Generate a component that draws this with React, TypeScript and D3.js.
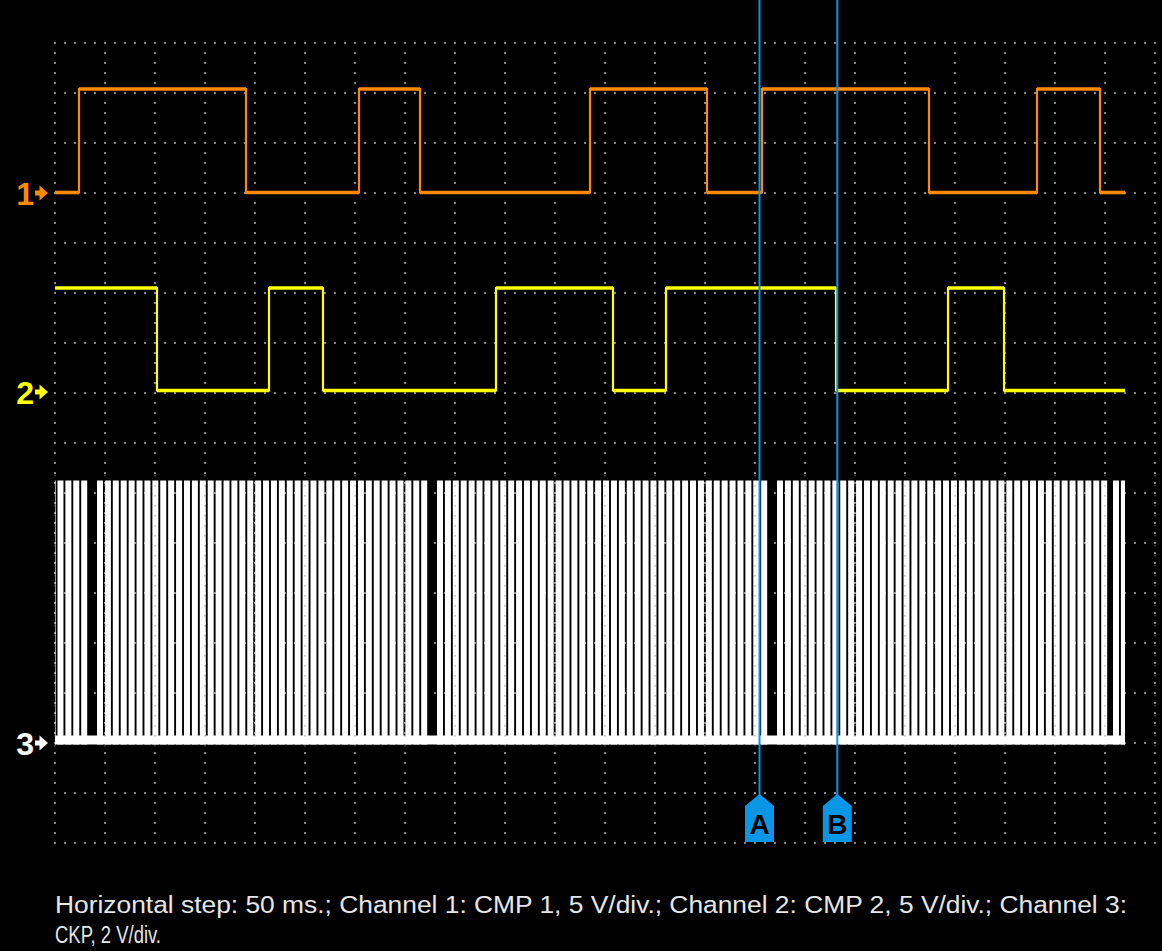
import React from 'react';
import * as d3 from 'd3';

// ---------- data ----------
const timeDomainMs: [number, number] = [0, 1100]; // 22 div x 50 ms
const msPerDiv = 50;
const voltDivisions = 16;
const traceEndMs = 1070;

// Channel 1: CMP 1 (5 V/div)
const ch1VoltsPerDiv = 5;
const ch1EdgesMs = [24, 191, 304, 365, 535, 652, 707, 874, 982, 1045];
const ch1StartsHigh = false;
const ch1LowV = 0.05;
const ch1HighV = 10.4;

// Channel 2: CMP 2 (5 V/div)
const ch2VoltsPerDiv = 5;
const ch2EdgesMs = [102, 214, 268, 441, 558, 611, 781, 893, 949];
const ch2StartsHigh = true;
const ch2LowV = 0.15;
const ch2HighV = 10.4;

// Channel 3: CKP (2 V/div) – trigger wheel, revolution starts after the missing tooth
const ch3VoltsPerDiv = 2;
const ckpRevStartsMs = [42, 382, 722, 1058];
const ckpTeethPerRev = 43; // positions per revolution
const ckpMissingTeeth = 1;
const ckpRevMs = 340;
const ckpToothHighMs = 6;
const ckpLowV = 0.1;
const ckpHighV = 10.5;

// Cursors
const cursorLabels = ['A', 'B'];
const cursorTimesMs = [704.5, 782.3];

const footerLines = [
  'Horizontal step: 50 ms.; Channel 1: CMP 1, 5 V/div.; Channel 2: CMP 2, 5 V/div.; Channel 3:',
  'CKP, 2 V/div.',
];
const footerWidths = [1072, 106];

// ---------- layout ----------
const W = 1162;
const H = 951;
const plotLeft = 55;
const plotRight = 1155;
const plotTop = 43;
const plotBottom = 843;
const divPx = 50;
const ch1Zero = 193;
const ch2Zero = 392;
const ch3Zero = 743;

const ORANGE = '#ff8a00';
const YELLOW = '#ffff00';
const WHITE = '#ffffff';
const BLUE = '#0a96e6';
const GRID = '#858585';

const x = d3.scaleLinear().domain(timeDomainMs).range([plotLeft, plotRight]);
const yFor = (zero: number, vpd: number) =>
  d3.scaleLinear().domain([0, vpd]).range([zero, zero - divPx]);

const y1 = yFor(ch1Zero, ch1VoltsPerDiv);
const y2 = yFor(ch2Zero, ch2VoltsPerDiv);
const y3 = yFor(ch3Zero, ch3VoltsPerDiv);

type Pt = [number, number];

function squareWave(edges: number[], startHigh: boolean, lowV: number, highV: number) {
  const pts: Pt[] = [];
  const segs: { t0: number; t1: number; v: number }[] = [];
  let high = startHigh;
  let prev = 0;
  pts.push([0, high ? highV : lowV]);
  edges.forEach((t) => {
    pts.push([t, high ? highV : lowV]);
    segs.push({ t0: prev, t1: t, v: high ? highV : lowV });
    high = !high;
    pts.push([t, high ? highV : lowV]);
    prev = t;
  });
  pts.push([traceEndMs, high ? highV : lowV]);
  segs.push({ t0: prev, t1: traceEndMs, v: high ? highV : lowV });
  return { pts, segs };
}

function SquareTrace({ edges, startHigh, lowV, highV, y, color }: any) {
  const { pts, segs } = squareWave(edges, startHigh, lowV, highV);
  const line = d3
    .line<Pt>()
    .x((d) => x(d[0]))
    .y((d) => y(d[1]));
  return (
    <g>
      <path d={line(pts) || ''} fill="none" stroke={color} strokeWidth={2.2} strokeLinejoin="miter" />
      {segs.map((s, i) => (
        <line
          key={i}
          x1={x(s.t0)}
          x2={x(s.t1)}
          y1={y(s.v)}
          y2={y(s.v)}
          stroke={color}
          strokeWidth={3.6}
        />
      ))}
    </g>
  );
}

function ckpTeeth() {
  const pitch = ckpRevMs / ckpTeethPerRev;
  const present = ckpTeethPerRev - ckpMissingTeeth;
  const starts = [ckpRevStartsMs[0] - ckpRevMs, ...ckpRevStartsMs];
  const teeth: [number, number][] = [];
  starts.forEach((r) => {
    for (let k = 0; k < present; k++) {
      const t0 = r + k * pitch;
      const t1 = t0 + ckpToothHighMs;
      const a = Math.max(0, t0);
      const b = Math.min(traceEndMs, t1);
      if (b - a > 0.4) teeth.push([a, b]);
    }
  });
  return teeth;
}

function Grid() {
  const vx = d3.range(0, timeDomainMs[1] + msPerDiv, msPerDiv);
  const hy = d3.range(0, voltDivisions + 1);
  return (
    <g>
      {vx.map((t) => (
        <line
          key={'v' + t}
          x1={x(t)}
          x2={x(t)}
          y1={plotTop - 1}
          y2={plotBottom + 1}
          stroke={GRID}
          strokeWidth={2}
          strokeDasharray="2 8"
        />
      ))}
      {hy.map((j) => (
        <line
          key={'h' + j}
          x1={plotLeft - 1}
          x2={plotRight + 1}
          y1={plotTop + j * divPx}
          y2={plotTop + j * divPx}
          stroke={GRID}
          strokeWidth={2}
          strokeDasharray="2 8"
        />
      ))}
    </g>
  );
}

function Marker({ label, yc, color }: { label: string; yc: number; color: string }) {
  const arrow = `M35,${yc - 2.5} H39.5 V${yc - 7.5} L48,${yc} L39.5,${yc + 7.5} V${yc + 2.5} H35 Z`;
  return (
    <g>
      <text
        x={34}
        y={yc + 11.5}
        textAnchor="end"
        fontFamily="'Liberation Sans', Arial, sans-serif"
        fontWeight="bold"
        fontSize={32}
        fill={color}
      >
        {label}
      </text>
      <path d={arrow} fill={color} />
    </g>
  );
}

function Cursor({ label, t }: { label: string; t: number }) {
  const cx = x(t);
  const tagTop = 794;
  const shoulder = 806;
  const bottom = 842;
  const hw = 14.5;
  const tag = `M${cx},${tagTop} L${cx + hw},${shoulder} V${bottom} H${cx - hw} V${shoulder} Z`;
  return (
    <g>
      <line x1={cx} x2={cx} y1={0} y2={tagTop + 2} stroke={BLUE} strokeWidth={2} />
      <path d={tag} fill={BLUE} />
      <text
        x={cx}
        y={834}
        textAnchor="middle"
        fontFamily="'Liberation Sans', Arial, sans-serif"
        fontWeight="bold"
        fontSize={28}
        fill="#000"
      >
        {label}
      </text>
    </g>
  );
}

export default function App() {
  const teeth = ckpTeeth();
  return (
    <svg
      width={W}
      height={H}
      viewBox={`0 0 ${W} ${H}`}
      style={{ position: 'absolute', left: 0, top: 0, display: 'block', background: '#000' }}
    >
      <rect x={0} y={0} width={W} height={H} fill="#000" />
      <Grid />
      <SquareTrace edges={ch1EdgesMs} startHigh={ch1StartsHigh} lowV={ch1LowV} highV={ch1HighV} y={y1} color={ORANGE} />
      <SquareTrace edges={ch2EdgesMs} startHigh={ch2StartsHigh} lowV={ch2LowV} highV={ch2HighV} y={y2} color={YELLOW} />
      <g>
        <rect
          x={x(0)}
          width={x(traceEndMs) - x(0)}
          y={y3(ckpLowV) - 5}
          height={9}
          fill={WHITE}
        />
        {teeth.map(([a, b], i) => (
          <rect key={i} x={x(a)} width={x(b) - x(a)} y={y3(ckpHighV)} height={y3(ckpLowV) + 4 - y3(ckpHighV)} fill={WHITE} />
        ))}
      </g>
      <g opacity={0.55}>
        {d3.range(0, timeDomainMs[1] + msPerDiv, msPerDiv).map((t) => (
          <line
            key={'o' + t}
            x1={x(t)}
            x2={x(t)}
            y1={475}
            y2={750}
            stroke={GRID}
            strokeWidth={1.5}
            strokeDasharray="1.5 8.5"
          />
        ))}
      </g>
      <Marker label="1" yc={ch1Zero} color={ORANGE} />
      <Marker label="2" yc={ch2Zero} color={YELLOW} />
      <Marker label="3" yc={ch3Zero} color={WHITE} />
      {cursorLabels.map((l, i) => (
        <Cursor key={l} label={l} t={cursorTimesMs[i]} />
      ))}
      {footerLines.map((s, i) => (
        <text
          key={i}
          x={55}
          y={913 + i * 30}
          fontFamily="'Liberation Sans', Arial, sans-serif"
          fontSize={23}
          fill="#e6e6e6"
          textLength={footerWidths[i]}
          lengthAdjust="spacingAndGlyphs"
        >
          {s}
        </text>
      ))}
    </svg>
  );
}
